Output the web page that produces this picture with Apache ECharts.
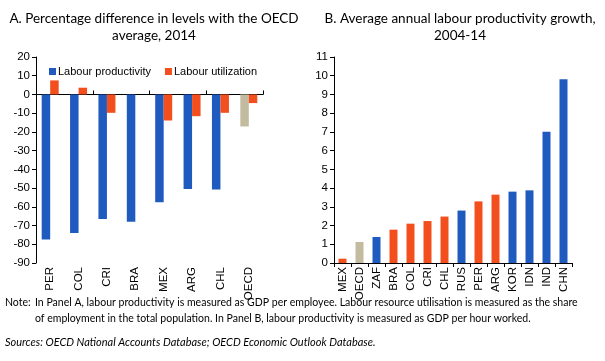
<!DOCTYPE html>
<html><head><meta charset="utf-8">
<script src="https://cdn.jsdelivr.net/npm/echarts@6/dist/echarts.min.js"></script>
<style>html,body{margin:0;padding:0;background:#fff}#c{width:605px;height:361px}</style>
</head><body><div id="c"></div>
<script>
// Panel A data
const catsA = ['PER','COL','CRI','BRA','MEX','ARG','CHL','OECD'];
const productivityA = [-77.5, -74, -66.5, -68, -57.6, -50.5, -50.7, -17.1];
const utilizationA = [7.5, 3.6, -9.8, 0, -13.9, -11.6, -9.8, -4.6];
const yTicksA = {min: -90, max: 20, interval: 10};
// Panel B data
const catsB = ['MEX','OECD','ZAF','BRA','COL','CRI','CHL','RUS','PER','ARG','KOR','IDN','IND','CHN'];
const growthB = [0.23, 1.12, 1.39, 1.78, 2.1, 2.24, 2.48, 2.8, 3.29, 3.65, 3.81, 3.88, 7.01, 9.81];
const groupB = ['latam','oecd','other','latam','latam','latam','latam','other','latam','latam','other','other','other','other'];
const yTicksB = {min: 0, max: 11, interval: 1};
const titleA = 'A. Percentage difference in levels with the OECD\naverage, 2014';
const titleB = 'B. Average annual labour productivity growth,\n2004-14';
const noteLabel = 'Note:';
const noteText1 = 'In Panel A, labour productivity is measured as GDP per employee. Labour resource utilisation is measured as the share';
const noteText2 = 'of employment in the total population. In Panel B, labour productivity is measured as GDP per hour worked.';
const sourcesText = 'Sources: OECD National Accounts Database; OECD Economic Outlook Database.';

const BLUE = '#1F5BBF', ORANGE = '#F24E1E', GRAY = '#C3BB9F';
const groupColor = {latam: ORANGE, oecd: GRAY, other: BLUE};
const ARIAL = '"Liberation Sans", Arial, sans-serif';
const axisFont = {fontFamily: ARIAL, fontSize: 11.5, color: '#000'};
const titleFont = {fontFamily: 'Lato', fontSize: 13.5, color: '#000', fontWeight: 'normal', lineHeight: 17, align: 'center'};
const noteFont = {fontFamily: 'Lato', fontSize: 11.5, fill: '#000', verticalAlign: 'top', align: 'left'};

const chart = echarts.init(document.getElementById('c'), null, {renderer: 'canvas'});
chart.setOption({
  animation: false,
  backgroundColor: '#fff',
  title: [
    {text: titleA, left: 149, top: 5, textAlign: 'center', textStyle: titleFont},
    {text: titleB, left: 455, top: 5, textAlign: 'center', textStyle: titleFont}
  ],
  legend: {
    data: ['Labour productivity', 'Labour utilization'],
    left: 44, top: 61, icon: 'rect', itemWidth: 7, itemHeight: 7, itemGap: 14,
    textStyle: Object.assign({}, axisFont, {fontSize: 11, padding: [0, 0, 0, -3]}),
    selectedMode: false
  },
  grid: [
    {left: 36, top: 57, width: 227, height: 206},
    {left: 334, top: 57, width: 238, height: 206}
  ],
  xAxis: [
    {gridIndex: 0, type: 'category', data: catsA, position: 'bottom',
     axisLine: {show: false, onZero: false}, axisTick: {show: false},
     axisLabel: Object.assign({rotate: 90, margin: 4, interval: 0}, axisFont)},
    {gridIndex: 0, type: 'category', data: catsA, position: 'bottom',
     axisLine: {show: true, onZero: true, lineStyle: {color: '#000', width: 1}},
     axisTick: {show: true, inside: true, length: 4, lineStyle: {color: '#000'}},
     axisLabel: {show: false}},
    {gridIndex: 1, type: 'category', data: catsB, position: 'bottom',
     axisLine: {show: true, lineStyle: {color: '#000', width: 1}},
     axisTick: {show: true, length: 4, lineStyle: {color: '#000'}},
     axisLabel: Object.assign({rotate: 90, margin: 4, interval: 0}, axisFont)}
  ],
  yAxis: [
    {gridIndex: 0, type: 'value', min: yTicksA.min, max: yTicksA.max, interval: yTicksA.interval,
     splitLine: {show: false},
     axisLine: {show: true, lineStyle: {color: '#000'}},
     axisTick: {show: true, length: 4, lineStyle: {color: '#000'}},
     axisLabel: Object.assign({margin: 6}, axisFont)},
    {gridIndex: 1, type: 'value', min: yTicksB.min, max: yTicksB.max, interval: yTicksB.interval,
     splitLine: {show: false},
     axisLine: {show: true, lineStyle: {color: '#000'}},
     axisTick: {show: true, length: 4, lineStyle: {color: '#000'}},
     axisLabel: Object.assign({margin: 6}, axisFont)}
  ],
  series: [
    {name: 'Labour productivity', type: 'bar', xAxisIndex: 0, yAxisIndex: 0,
     barWidth: 8.5, barGap: '0%', itemStyle: {color: BLUE},
     data: productivityA.map((v, i) => catsA[i] === 'OECD' ? {value: v, itemStyle: {color: GRAY}} : v)},
    {name: 'Labour utilization', type: 'bar', xAxisIndex: 0, yAxisIndex: 0,
     barWidth: 8.5, barGap: '0%', itemStyle: {color: ORANGE},
     data: utilizationA},
    {name: 'growth', type: 'bar', xAxisIndex: 2, yAxisIndex: 1, barWidth: 8,
     data: growthB.map((v, i) => ({value: v, itemStyle: {color: groupColor[groupB[i]]}}))}
  ],
  graphic: [
    {type: 'text', x: 5, y: 296, scaleX: 0.915, style: Object.assign({text: noteLabel}, noteFont)},
    {type: 'text', x: 35, y: 296, scaleX: 0.915, style: Object.assign({text: noteText1}, noteFont)},
    {type: 'text', x: 35, y: 312, scaleX: 0.915, style: Object.assign({text: noteText2}, noteFont)},
    {type: 'text', x: 5, y: 336, scaleX: 0.955, style: Object.assign({text: sourcesText, fontStyle: 'italic'}, noteFont)}
  ]
});
</script></body></html>
